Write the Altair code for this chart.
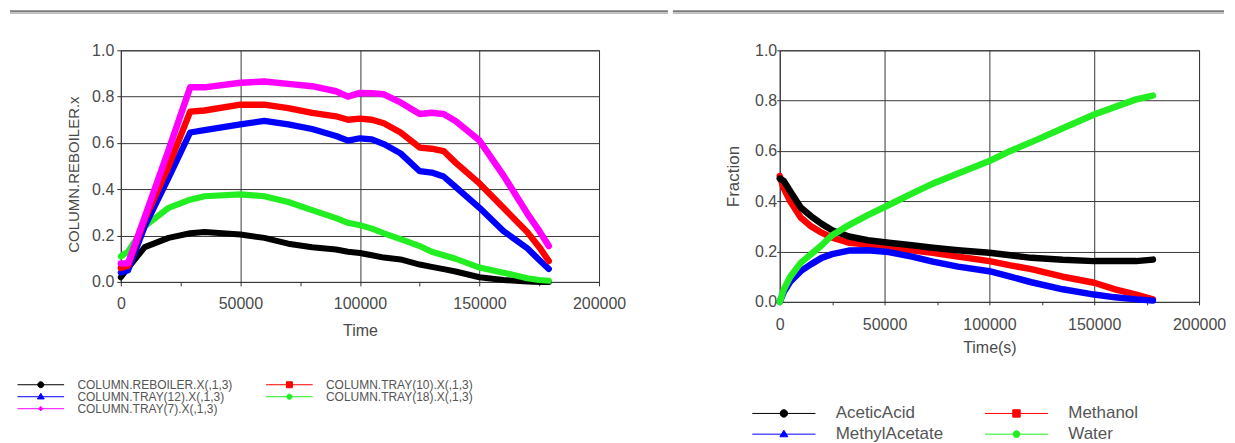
import altair as alt
import pandas as pd

# ---------------- left panel: tray compositions ----------------
T_LEFT = [0, 3000, 10000, 20000, 29000, 35000, 50000, 60000, 70000, 80000, 90000, 95000,
          100000, 105000, 110000, 117000, 125000, 130000, 135000, 140000, 150000, 160000,
          170000, 175000, 179000]
REBOILER = [0.02, 0.06, 0.15, 0.19, 0.21, 0.215, 0.205, 0.19, 0.165, 0.15, 0.14, 0.13,
            0.125, 0.115, 0.105, 0.097, 0.075, 0.065, 0.055, 0.045, 0.02, 0.008, 0.002, 0.0, 0.0]
TRAY10 = [0.06, 0.07, 0.27, 0.50, 0.735, 0.74, 0.765, 0.765, 0.75, 0.73, 0.715, 0.70,
          0.705, 0.70, 0.685, 0.645, 0.58, 0.575, 0.565, 0.515, 0.425, 0.32, 0.215, 0.15, 0.09]
TRAY12 = [0.04, 0.05, 0.24, 0.45, 0.645, 0.655, 0.68, 0.695, 0.68, 0.66, 0.63, 0.61,
          0.62, 0.615, 0.595, 0.555, 0.478, 0.472, 0.455, 0.41, 0.32, 0.22, 0.145, 0.095, 0.056]
TRAY18 = [0.11, 0.13, 0.24, 0.32, 0.355, 0.37, 0.378, 0.37, 0.345, 0.31, 0.275, 0.255,
          0.245, 0.23, 0.21, 0.185, 0.155, 0.13, 0.115, 0.10, 0.062, 0.04, 0.016, 0.008, 0.005]
TRAY7 = [0.08, 0.08, 0.28, 0.57, 0.84, 0.84, 0.86, 0.865, 0.855, 0.845, 0.823, 0.80,
         0.816, 0.815, 0.81, 0.775, 0.725, 0.73, 0.725, 0.695, 0.61, 0.46, 0.295, 0.22, 0.155]

L_NAMES = ["COLUMN.REBOILER.X(,1,3)", "COLUMN.TRAY(10).X(,1,3)", "COLUMN.TRAY(12).X(,1,3)",
           "COLUMN.TRAY(18).X(,1,3)", "COLUMN.TRAY(7).X(,1,3)"]
L_COLORS = ["#000000", "#ff0000", "#0000ff", "#22ee22", "#ff00ff"]
L_WIDTHS = [6, 6.5, 5, 6.5, 3]
L_DRAW = [0, 3, 2, 1, 4]          # drawing order (indices into L_NAMES)

# ---------------- right panel: component fractions ----------------
T_RIGHT = [0, 2000, 5000, 10000, 15000, 20000, 25000, 33000, 42000, 52000, 63000, 73000,
           85000, 100000, 110000, 120000, 135000, 150000, 160000, 170000, 178000]
ACETIC = [0.49, 0.48, 0.44, 0.375, 0.34, 0.31, 0.285, 0.26, 0.245, 0.235, 0.225, 0.215,
          0.205, 0.195, 0.185, 0.175, 0.167, 0.162, 0.162, 0.162, 0.168]
METHANOL = [0.50, 0.45, 0.40, 0.335, 0.30, 0.275, 0.255, 0.235, 0.228, 0.22, 0.205, 0.195,
            0.18, 0.162, 0.145, 0.13, 0.10, 0.076, 0.05, 0.029, 0.01]
METHYLAC = [0.0, 0.04, 0.08, 0.122, 0.15, 0.175, 0.19, 0.204, 0.205, 0.198, 0.18, 0.16,
            0.14, 0.122, 0.10, 0.078, 0.05, 0.029, 0.018, 0.01, 0.005]
WATER = [0.0, 0.05, 0.10, 0.155, 0.19, 0.225, 0.265, 0.305, 0.345, 0.385, 0.43, 0.47,
         0.51, 0.56, 0.60, 0.635, 0.69, 0.745, 0.775, 0.805, 0.82]

R_NAMES = ["AceticAcid", "Methanol", "MethylAcetate", "Water"]
R_COLORS = ["#000000", "#ff0000", "#0000ff", "#22ee22"]
R_WIDTHS = [6.5, 6.5, 6.5, 6.5]
R_DRAW = [1, 2, 0, 3]

X_TICKS = [i * 25000 for i in range(9)]
Y_TICKS = [round(i * 0.1, 1) for i in range(11)]

FONT = "Liberation Sans"
TXT = "#4a4a4a"
GRID = "#383838"

KEY_SIZE = 64                      # legend symbol size: unit = sqrt(64)/2 = 4 px


def long_df(times, pairs):
    rows = []
    for name, vals in pairs:
        for t, v in zip(times, vals):
            rows.append({"t": t, "v": v, "series": name})
    return pd.DataFrame(rows)


# legend keys: a line starting at the symbol anchor, with a marker in its middle
def key(length_px, marker):
    u = KEY_SIZE ** 0.5 / 2
    L = length_px / u
    return f"M0,0H{L:.3f}" + marker(L / 2, u)


def circle(r_px):
    def f(m, u):
        a = r_px / u
        return f"M{m - a:.3f},0A{a:.3f},{a:.3f} 0 1,0 {m + a:.3f},0A{a:.3f},{a:.3f} 0 1,0 {m - a:.3f},0Z"
    return f


def square(r_px):
    def f(m, u):
        a = r_px / u
        return f"M{m - a:.3f},{-a:.3f}H{m + a:.3f}V{a:.3f}H{m - a:.3f}Z"
    return f


def triangle(r_px):
    def f(m, u):
        a = r_px / u
        return f"M{m:.3f},{-a:.3f}L{m + a:.3f},{0.65 * a:.3f}L{m - a:.3f},{0.65 * a:.3f}Z"
    return f


def diamond(r_px):
    def f(m, u):
        a = r_px / u
        return f"M{m:.3f},{-a:.3f}L{m + a:.3f},0L{m:.3f},{a:.3f}L{m - a:.3f},0Z"
    return f


def x_axis(title, tick, pad, title_y):
    return alt.Axis(
        title=title, values=X_TICKS, format="d",
        labelExpr="datum.value % 50000 === 0 ? datum.label : ''",
        grid=True, gridColor=GRID, gridWidth=1,
        gridOpacity={"condition": {"test": "datum.value % 50000 === 0", "value": 1}, "value": 0},
        domain=False, ticks=True, tickSize=tick, tickColor="#333333", tickWidth=1,
        labelPadding=pad, labelFlush=False, labelOverlap=False,
        labelFont=FONT, labelFontSize=16, labelColor=TXT,
        titleFont=FONT, titleFontSize=16, titleFontWeight="normal", titleColor=TXT,
        titleY=title_y, titleBaseline="top",
    )


def y_axis(title, tick, pad, title_x, title_y, title_size):
    return alt.Axis(
        title=title, values=Y_TICKS,
        labelExpr="round(datum.value*10) % 2 === 0 ? format(datum.value, '.1f') : ''",
        grid=True, gridColor=GRID, gridWidth=1,
        gridOpacity={"condition": {"test": "round(datum.value*10) % 2 === 0", "value": 1}, "value": 0},
        domain=False, ticks=True, tickSize=tick, tickColor="#333333", tickWidth=1,
        labelPadding=pad, labelOverlap=False,
        labelFont=FONT, labelFontSize=16, labelColor=TXT,
        titleFont=FONT, titleFontSize=title_size, titleFontWeight="normal", titleColor=TXT,
        titleAngle=270, titleX=title_x, titleY=title_y, titleAlign="center", titleBaseline="middle",
    )


def panel(df, names, colors, widths, draw, shapes, legend, w, h, xax, yax, rule_x, rule_x2):
    xs = alt.Scale(domain=[0, 200000], nice=False)
    ys = alt.Scale(domain=[0, 1], nice=False)
    # line scales use the drawing order, so they stay apart from the legend scales
    d_names = [names[i] for i in draw]
    d_colors = [colors[i] for i in draw]
    d_widths = [widths[i] for i in draw]
    sep = alt.Data(values=[{"k": 0}])
    rule_dark = alt.Chart(sep).mark_rule(color="#7c7c7c", strokeWidth=2).encode(
        x=alt.value(rule_x), x2=alt.value(rule_x2), y=alt.value(-39))
    rule_light = alt.Chart(sep).mark_rule(color="#bdbdbd", strokeWidth=1.5).encode(
        x=alt.value(rule_x), x2=alt.value(rule_x2), y=alt.value(-37.2))
    lines = alt.Chart(df).mark_line(strokeCap="round", strokeJoin="round").encode(
        x=alt.X("t:Q", scale=xs, axis=xax),
        y=alt.Y("v:Q", scale=ys, axis=yax),
        color=alt.Color("series:N", scale=alt.Scale(domain=d_names, range=d_colors), legend=None),
        strokeWidth=alt.StrokeWidth("series:N", scale=alt.Scale(domain=d_names, range=d_widths), legend=None),
    )
    keys = alt.Chart(df).mark_point(filled=True, strokeWidth=1, size=0, opacity=1).encode(
        x=alt.X("t:Q", scale=xs),
        y=alt.Y("v:Q", scale=ys),
        fill=alt.Fill("series:N", scale=alt.Scale(domain=names, range=colors), legend=legend),
        stroke=alt.Stroke("series:N", scale=alt.Scale(domain=names, range=colors), legend=legend),
        shape=alt.Shape("series:N", scale=alt.Scale(domain=names, range=shapes), legend=legend),
    )
    return alt.layer(rule_light, rule_dark, lines, keys).properties(width=w, height=h)


left_df = long_df(T_LEFT, [(L_NAMES[i], [REBOILER, TRAY10, TRAY12, TRAY18, TRAY7][i]) for i in L_DRAW])
right_df = long_df(T_RIGHT, [(R_NAMES[i], [ACETIC, METHANOL, METHYLAC, WATER][i]) for i in R_DRAW])

L_SHAPES = [key(46.7, circle(3.0)), key(46.7, square(3.0)), key(46.7, triangle(3.4)),
            key(46.7, circle(2.6)), key(46.7, diamond(2.2))]
R_SHAPES = [key(63.3, circle(3.7)), key(63.3, square(3.7)), key(63.3, triangle(4.0)),
            key(63.3, circle(3.4))]

left_legend = alt.Legend(
    title=None, orient="none", legendX=-109.5, legendY=329, columns=2, direction="horizontal",
    columnPadding=27, rowPadding=0, symbolSize=KEY_SIZE, symbolStrokeWidth=1, symbolOpacity=1,
    labelFont=FONT, labelFontSize=12, labelColor="#555555", labelOffset=54, labelLimit=400)
right_legend = alt.Legend(
    title=None, orient="none", legendX=-36, legendY=355, columns=2, direction="horizontal",
    columnPadding=33, rowPadding=3, symbolSize=KEY_SIZE, symbolStrokeWidth=1, symbolOpacity=1,
    labelFont=FONT, labelFontSize=17, labelColor="#555555", labelOffset=75, labelLimit=400)

left = panel(
    left_df, L_NAMES, L_COLORS, L_WIDTHS, L_DRAW, L_SHAPES, left_legend, 479, 232,
    x_axis("Time", 4, 10, 41),
    y_axis("COLUMN.REBOILER.x", 4, 3, -47, 124, 15),
    -111, 548)

right = panel(
    right_df, R_NAMES, R_COLORS, R_WIDTHS, R_DRAW, R_SHAPES, right_legend, 420, 252,
    x_axis("Time(s)", 3, 12, 38),
    y_axis("Fraction", 3, 0, -46, 126, 17),
    -107, 445)

chart = alt.hconcat(left, right, spacing=181, bounds="flush").resolve_scale(
    x="independent", y="independent", color="independent", fill="independent",
    stroke="independent", shape="independent", strokeWidth="independent",
).resolve_legend(
    fill="independent", stroke="independent", shape="independent",
).properties(
    padding={"left": 0, "top": 1, "right": 0, "bottom": 0}
).configure(font=FONT).configure_view(stroke="#333333", strokeWidth=1)

chart.save("out.html", embed_options={"renderer": "svg", "actions": False})
